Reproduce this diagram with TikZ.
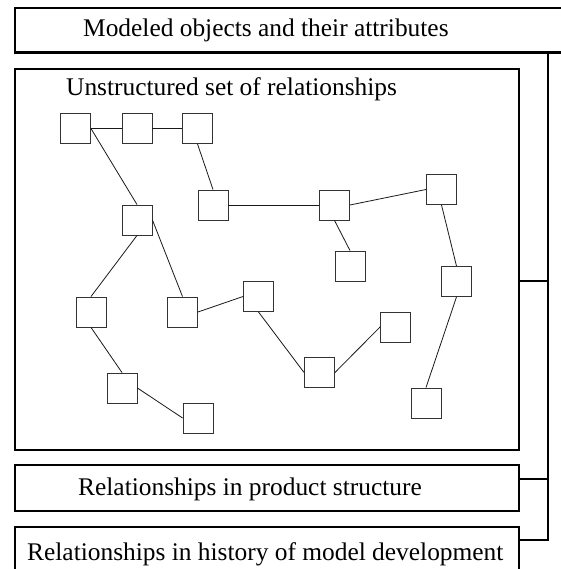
\documentclass[tikz,border=0pt]{standalone}
\usepackage{fontspec}
\setmainfont{Liberation Serif}
\begin{document}
\begin{tikzpicture}[x=1pt,y=-1pt,
  bigbox/.style={draw=black, line width=2.4pt, rectangle, anchor=north west, inner sep=0pt},
  sq/.style={draw=black!80, line width=0.9pt, rectangle, minimum size=30pt, inner sep=0pt},
  lbl/.style={anchor=base west, inner sep=0pt, font=\fontsize{25.4}{30}\selectfont},
  rel/.style={line width=0.8pt, black!90},
  bus/.style={line width=2.4pt, black}]
\useasboundingbox (0,0) rectangle (560,569);
% boxes
\node[bigbox, minimum width=550pt, minimum height=44.5pt] (top) at (14,7) {};
\node[bigbox, minimum width=504pt, minimum height=381pt] (big) at (14,68) {};
\node[bigbox, minimum width=504pt, minimum height=45.5pt] (mid) at (14,464) {};
\node[bigbox, minimum width=504pt, minimum height=50pt] (bot) at (14,525.5) {};
% labels
\node[lbl] (ttop) at (83,37) {Modeled objects and their attributes};
\node[lbl] (tbig) at (66,96) {Unstructured set of relationships};
\node[lbl] (tmid) at (78,495) {Relationships in product structure};
\node[lbl] (tbot) at (27,560) {Relationships in history of model development};
% bus
\coordinate (b0) at (548,51.5);
\coordinate (b1) at (548,281);
\coordinate (b2) at (548,479);
\coordinate (b3) at (548,540);
\draw[bus] (b0) -- (b3) -- (b3 -| bot.east);
\draw[bus] (b1) -- (b1 -| big.east);
\draw[bus] (b2) -- (b2 -| mid.east);
% squares
\node[sq] (A) at (75.5,128.5) {};
\node[sq] (B) at (137,128.5) {};
\node[sq] (C) at (197.5,128.5) {};
\node[sq] (D) at (213,205) {};
\node[sq] (E) at (137,220) {};
\node[sq] (F) at (91,312) {};
\node[sq] (G) at (182.5,312) {};
\node[sq] (H) at (258.5,296.5) {};
\node[sq] (I) at (122,388) {};
\node[sq] (J) at (198,418) {};
\node[sq] (K) at (334.5,205) {};
\node[sq] (L) at (441.5,189.5) {};
\node[sq] (M) at (350,266) {};
\node[sq] (N) at (456.5,281.5) {};
\node[sq] (O) at (395.5,327) {};
\node[sq] (P) at (319.5,372.5) {};
\node[sq] (Q) at (426,403) {};
% relationships
\draw[rel] (A.east) -- (B.west);
\draw[rel] (B.east) -- (C.west);
\draw[rel] (A.east) -- (E.north);
\draw[rel] (C.south) -- (D.north);
\draw[rel] (D.east) -- (K.west);
\draw[rel] (K.east) -- (L.west);
\draw[rel] (K.south) -- (M.north);
\draw[rel] (L.south) -- (N.north);
\draw[rel] (N.south) -- (Q.north);
\draw[rel] (E.south) -- (F.north);
\draw[rel] (E.east) -- (G.north);
\draw[rel] (F.south) -- (I.north);
\draw[rel] (I.east) -- (J.west);
\draw[rel] (G.east) -- (H.west);
\draw[rel] (H.south) -- (P.west);
\draw[rel] (P.east) -- (O.west);
\end{tikzpicture}
\end{document}
